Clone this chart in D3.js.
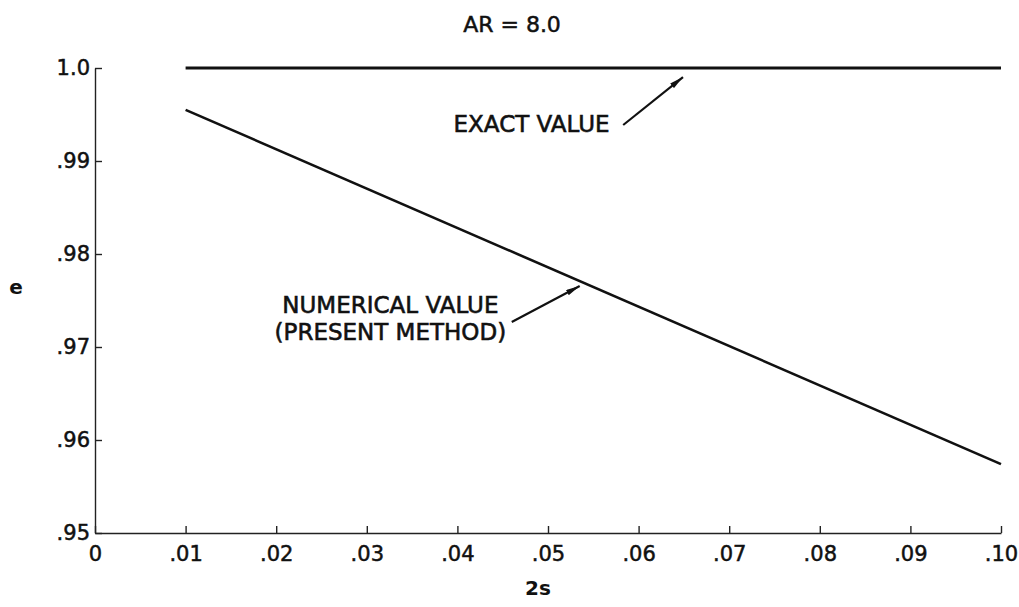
<!DOCTYPE html>
<html>
<head>
<meta charset="utf-8">
<script src="https://cdn.jsdelivr.net/npm/d3@7/dist/d3.min.js"></script>
<style>
  html, body { margin: 0; padding: 0; background: #fff; }
  svg text { font-family: "DejaVu Sans", sans-serif; fill: #111; }
</style>
</head>
<body>
<div id="chart"></div>
<script>
// AR = 8.0 — efficiency factor e vs 2s, exact vs numerical

const title = 'AR = 8.0';
const xValues = [0.01, 0.10];
const exactValues = [1.0, 1.0];
const numericalValues = [0.9955, 0.9574];
const xTicks = [0, 0.01, 0.02, 0.03, 0.04, 0.05, 0.06, 0.07, 0.08, 0.09, 0.10];
const xTickLabels = ['0', '.01', '.02', '.03', '.04', '.05', '.06', '.07', '.08', '.09', '.10'];
const yTicks = [0.95, 0.96, 0.97, 0.98, 0.99, 1.0];
const yTickLabels = ['.95', '.96', '.97', '.98', '.99', '1.0'];

const width = 1019, height = 607;
const margin = { top: 68, right: 18, bottom: 74, left: 95 };

const svg = d3.select('#chart')
  .append('svg')
  .attr('width', width)
  .attr('height', height);

const x = d3.scaleLinear().domain([0, 0.10]).range([margin.left, 1001]);
const y = d3.scaleLinear().domain([0.95, 1.0]).range([533, margin.top]);

// Axes (ticks point inward like the original)
const xAxis = d3.axisBottom(x)
  .tickValues(xTicks)
  .tickFormat((d, i) => xTickLabels[i])
  .tickSizeInner(-7)
  .tickSizeOuter(0)
  .tickPadding(13);

const yAxis = d3.axisLeft(y)
  .tickValues(yTicks)
  .tickFormat((d, i) => yTickLabels[i])
  .tickSizeInner(-7)
  .tickSizeOuter(0)
  .tickPadding(5);

const gx = svg.append('g')
  .attr('transform', `translate(0,${y(0.95)})`)
  .call(xAxis);

const gy = svg.append('g')
  .attr('transform', `translate(${x(0)},0)`)
  .call(yAxis);

[gx, gy].forEach(g => {
  g.select('.domain').attr('stroke', '#222').attr('stroke-width', 1.4);
  g.selectAll('.tick line').attr('stroke', '#222').attr('stroke-width', 1.4);
  g.selectAll('.tick text')
    .attr('font-size', 21)
    .attr('font-family', '"DejaVu Sans", sans-serif')
    .attr('fill', '#111')
    .attr('stroke', '#111')
    .attr('stroke-width', 0.5);
});

// Axis titles
svg.append('text')
  .attr('x', 538)
  .attr('y', 595)
  .attr('text-anchor', 'middle')
  .attr('font-size', 20)
  .attr('font-weight', 'bold')
  .text('2s');

svg.append('text')
  .attr('x', 16)
  .attr('y', 294)
  .attr('text-anchor', 'middle')
  .attr('font-size', 20)
  .attr('font-weight', 'bold')
  .text('e');

svg.append('text')
  .attr('x', 512)
  .attr('y', 32)
  .attr('text-anchor', 'middle')
  .attr('font-size', 22)
  .attr('stroke', '#111')
  .attr('stroke-width', 0.5)
  .text(title);

// Curves
const line = d3.line()
  .x(d => x(d[0]))
  .y(d => y(d[1]));

svg.append('path')
  .datum(xValues.map((v, i) => [v, exactValues[i]]))
  .attr('fill', 'none')
  .attr('stroke', '#111')
  .attr('stroke-width', 3)
  .attr('d', line);

svg.append('path')
  .datum(xValues.map((v, i) => [v, numericalValues[i]]))
  .attr('fill', 'none')
  .attr('stroke', '#111')
  .attr('stroke-width', 2.6)
  .attr('d', line);

// Arrowhead marker
svg.append('defs').append('marker')
  .attr('id', 'arrow')
  .attr('viewBox', '0 0 14 6')
  .attr('refX', 14)
  .attr('refY', 3)
  .attr('markerWidth', 14)
  .attr('markerHeight', 6)
  .attr('markerUnits', 'userSpaceOnUse')
  .attr('orient', 'auto')
  .append('path')
  .attr('d', 'M0,0 L14,3 L0,6 Z')
  .attr('fill', '#111');

// Annotations: tail/tip in data units, label lines
const annotations = [
  { tail: [0.0583, 0.99387], tip: [0.0649, 0.99903], lines: ['EXACT VALUE'], lx: 0.0568, ly: 0.99403, anchor: 'end' },
  { tail: [0.0460, 0.97269], tip: [0.0535, 0.97656], lines: ['NUMERICAL VALUE', '(PRESENT METHOD)'], lx: 0.0326, ly: 0.97457, anchor: 'middle' }
];

annotations.forEach(a => {
  svg.append('line')
    .attr('x1', x(a.tail[0])).attr('y1', y(a.tail[1]))
    .attr('x2', x(a.tip[0])).attr('y2', y(a.tip[1]))
    .attr('stroke', '#111')
    .attr('stroke-width', 2.2)
    .attr('marker-end', 'url(#arrow)');

  const t = svg.append('text')
    .attr('x', x(a.lx))
    .attr('y', y(a.ly))
    .attr('text-anchor', a.anchor)
    .attr('font-size', 23)
    .attr('stroke', '#111')
    .attr('stroke-width', 0.6);
  a.lines.forEach((s, i) => {
    t.append('tspan')
      .attr('x', x(a.lx))
      .attr('dy', i === 0 ? '0.36em' : '1.17em')
      .text(s);
  });
});
</script>
</body>
</html>
